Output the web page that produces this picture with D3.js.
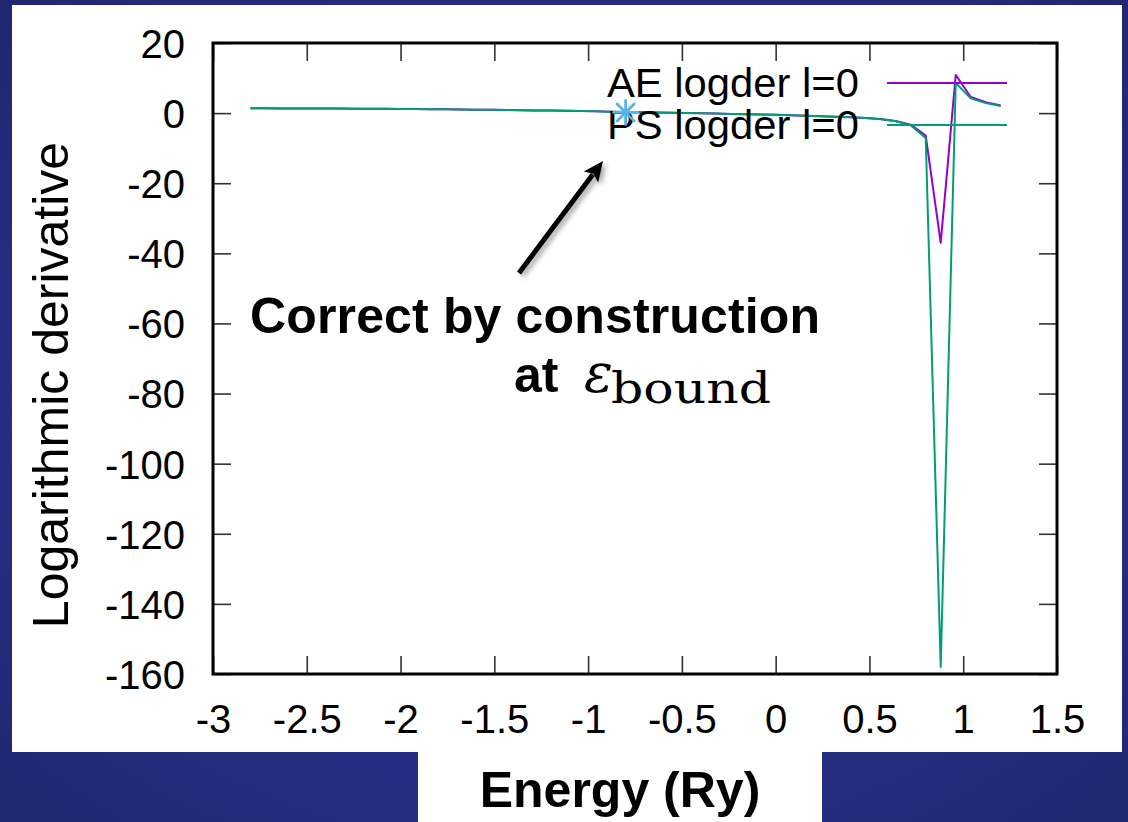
<!DOCTYPE html>
<html>
<head>
<meta charset="utf-8">
<script src="https://cdn.jsdelivr.net/npm/d3@7"></script>
<style>
  html, body { margin: 0; padding: 0; background: #2b3088; }
  svg { display: block; }
  text { font-family: "Liberation Sans", Arial, Helvetica, sans-serif; }
</style>
</head>
<body>
<svg id="chart" width="1128" height="822"></svg>
<script>
// Energy grid (Ry) on which the logarithmic derivatives were evaluated
const energies = [
  -2.80, -2.72, -2.64, -2.56, -2.48, -2.40, -2.32, -2.24, -2.16, -2.08,
  -2.00, -1.92, -1.84, -1.76, -1.68, -1.60, -1.52, -1.44, -1.36, -1.28,
  -1.20, -1.12, -1.04, -0.96, -0.88, -0.80, -0.72, -0.64, -0.56, -0.48,
  -0.40, -0.32, -0.24, -0.16, -0.08,  0.00,  0.08,  0.16,  0.24,  0.32,
   0.40,  0.48,  0.56,  0.64,  0.72,  0.80,  0.88,  0.96,  1.04,  1.12,
   1.20
];

// All-electron logarithmic derivative, l = 0
const aeLogder = [
   1.38,  1.37,  1.35,  1.34,  1.32,  1.30,  1.28,  1.26,  1.24,  1.21,
   1.18,  1.15,  1.11,  1.07,  1.03,  0.99,  0.94,  0.89,  0.84,  0.78,
   0.72,  0.65,  0.58,  0.50,  0.42,  0.34,  0.26,  0.18,  0.10,  0.02,
  -0.06, -0.14, -0.22, -0.31, -0.40, -0.50, -0.61, -0.73, -0.86, -1.01,
  -1.18, -1.39, -1.70, -2.25, -3.30, -6.40, -37.0, 10.9,  4.6,   3.1,
   2.2
];

// Pseudo logarithmic derivative, l = 0
const psLogder = [
   1.38,  1.37,  1.35,  1.34,  1.32,  1.30,  1.28,  1.26,  1.24,  1.21,
   1.18,  1.15,  1.11,  1.07,  1.03,  0.99,  0.94,  0.89,  0.84,  0.78,
   0.72,  0.65,  0.58,  0.50,  0.42,  0.34,  0.26,  0.18,  0.10,  0.02,
  -0.06, -0.14, -0.22, -0.31, -0.40, -0.50, -0.61, -0.73, -0.86, -1.01,
  -1.18, -1.39, -1.72, -2.30, -3.45, -7.10, -158.0, 8.6,  4.2,   2.9,
   2.0
];

// Reference (bound-state) energy where both curves agree
const boundPoint = [{ e: -0.80, v: 0.20 }];

const xTicks = [-3, -2.5, -2, -1.5, -1, -0.5, 0, 0.5, 1, 1.5];
const yTicks = [20, 0, -20, -40, -60, -80, -100, -120, -140, -160];

const seriesNames = ["AE logder l=0", "PS logder l=0"];
const seriesColors = ["#9400d3", "#009e73"];

const svg = d3.select("#chart");
const W = 1128, H = 822;

// ---- slide background with soft vignette ----
const defs = svg.append("defs");
const rg = defs.append("radialGradient").attr("id", "bg")
  .attr("cx", "50%").attr("cy", "50%").attr("r", "75%");
rg.append("stop").attr("offset", "0%").attr("stop-color", "#3339a0");
rg.append("stop").attr("offset", "100%").attr("stop-color", "#20256f");
svg.append("rect").attr("width", W).attr("height", H).attr("fill", "url(#bg)");

const shadow = defs.append("filter").attr("id", "shadow")
  .attr("x", "-30%").attr("y", "-30%").attr("width", "160%").attr("height", "160%");
shadow.append("feDropShadow").attr("dx", 3).attr("dy", 3)
  .attr("stdDeviation", 2.5).attr("flood-color", "#000").attr("flood-opacity", 0.35);

// white panels
svg.append("rect").attr("x", 12).attr("y", 5).attr("width", 1110).attr("height", 747).attr("fill", "#fff");
svg.append("rect").attr("x", 418).attr("y", 750).attr("width", 404).attr("height", 72).attr("fill", "#fff");

// ---- plot area ----
const plot = { left: 213, right: 1057, top: 43, bottom: 674 };
const x = d3.scaleLinear().domain([-3, 1.5]).range([plot.left, plot.right]);
const y = d3.scaleLinear().domain([-160, 20]).range([plot.bottom, plot.top]);

const tickLen = 18;
const tickFont = 40;

// bottom axis (ticks inward, labels below)
const xAxisB = d3.axisBottom(x).tickValues(xTicks).tickSize(-tickLen).tickPadding(31)
  .tickFormat(d => String(d));
const gxb = svg.append("g").attr("transform", `translate(0,${plot.bottom})`).call(xAxisB);
// top mirror ticks
const gxt = svg.append("g").attr("transform", `translate(0,${plot.top})`)
  .call(d3.axisTop(x).tickValues(xTicks).tickSize(-tickLen).tickFormat(""));
// left axis
const yAxisL = d3.axisLeft(y).tickValues(yTicks).tickSize(-tickLen).tickPadding(28)
  .tickFormat(d => String(d));
const gyl = svg.append("g").attr("transform", `translate(${plot.left},0)`).call(yAxisL);
// right mirror ticks
const gyr = svg.append("g").attr("transform", `translate(${plot.right},0)`)
  .call(d3.axisRight(y).tickValues(yTicks).tickSize(-tickLen).tickFormat(""));

[gxb, gxt, gyl, gyr].forEach(g => {
  g.select(".domain").remove();
  g.selectAll(".tick line").attr("stroke", "#333").attr("stroke-width", 1.6);
  g.selectAll(".tick text").attr("fill", "#000")
    .style("font-family", "'Liberation Sans', Arial, sans-serif")
    .style("font-size", tickFont + "px");
});
gxb.selectAll(".tick text").attr("dy", "0.71em");
gyl.selectAll(".tick text").attr("dy", "0.36em");

// ---- curves ----
const line = d3.line().x(d => x(d[0])).y(d => y(d[1]));
const clip = defs.append("clipPath").attr("id", "clip");
clip.append("rect").attr("x", plot.left).attr("y", plot.top)
  .attr("width", plot.right - plot.left).attr("height", plot.bottom - plot.top);

const curves = svg.append("g").attr("clip-path", "url(#clip)");
[aeLogder, psLogder].forEach((vals, i) => {
  curves.append("path")
    .datum(energies.map((e, k) => [e, vals[k]]))
    .attr("d", line)
    .attr("fill", "none")
    .attr("stroke", seriesColors[i])
    .attr("stroke-width", 2)
    .attr("stroke-linejoin", "round");
});

// ---- legend ----
const legendRows = [97, 139];
const legendSample = [887, 1007];
seriesNames.forEach((name, i) => {
  svg.append("text")
    .attr("x", 859).attr("y", legendRows[i])
    .attr("text-anchor", "end")
    .style("font-size", "40px")
    .attr("textLength", 252).attr("lengthAdjust", "spacingAndGlyphs")
    .text(name);
  svg.append("line")
    .attr("x1", legendSample[0]).attr("x2", legendSample[1])
    .attr("y1", legendRows[i] - 14).attr("y2", legendRows[i] - 14)
    .attr("stroke", seriesColors[i]).attr("stroke-width", 2);
});

// bound-state marker (asterisk), drawn above the legend text
const star = svg.append("g").selectAll("g").data(boundPoint).join("g")
  .attr("transform", d => `translate(${x(d.e)},${y(d.v)})`);
[0, 45, 90, 135].forEach(a => {
  const r = 12, t = a * Math.PI / 180;
  star.append("line")
    .attr("x1", -r * Math.cos(t)).attr("y1", -r * Math.sin(t))
    .attr("x2", r * Math.cos(t)).attr("y2", r * Math.sin(t))
    .attr("stroke", "#56b4e9").attr("stroke-width", 2.8)
    .attr("stroke-linecap", "round");
});

// frame
svg.append("rect")
  .attr("x", plot.left).attr("y", plot.top)
  .attr("width", plot.right - plot.left).attr("height", plot.bottom - plot.top)
  .attr("fill", "none").attr("stroke", "#000").attr("stroke-width", 3);

// ---- axis titles ----
svg.append("text")
  .attr("transform", `translate(68,385) rotate(-90)`)
  .attr("text-anchor", "middle")
  .style("font-size", "50px")
  .text("Logarithmic derivative");

svg.append("text")
  .attr("x", 620).attr("y", 807)
  .attr("text-anchor", "middle")
  .style("font-size", "50px").style("font-weight", "bold")
  .text("Energy (Ry)");

// ---- annotation ----
svg.append("text")
  .attr("x", 250).attr("y", 333)
  .style("font-size", "50px").style("font-weight", "bold")
  .attr("textLength", 570).attr("lengthAdjust", "spacing")
  .text("Correct by construction");

svg.append("text")
  .attr("x", 514).attr("y", 392)
  .style("font-size", "50px").style("font-weight", "bold")
  .text("at");

svg.append("text")
  .attr("x", 584).attr("y", 392)
  .style("font-family", "'DejaVu Serif', 'Liberation Serif', serif")
  .style("font-style", "italic")
  .style("font-size", "54px")
  .text("ε");

svg.append("text")
  .attr("x", 611).attr("y", 403)
  .style("font-family", "'DejaVu Serif', 'Liberation Serif', serif")
  .style("font-size", "42px")
  .attr("textLength", 160).attr("lengthAdjust", "spacingAndGlyphs")
  .text("bound");

// arrow pointing at the bound-state marker
const arrow = svg.append("g").attr("filter", "url(#shadow)");
const ax0 = 519, ay0 = 273, ax1 = 603, ay1 = 161;
const ang = Math.atan2(ay1 - ay0, ax1 - ax0);
const headL = 20, headW = 9;
const bx = ax1 - headL * Math.cos(ang), by = ay1 - headL * Math.sin(ang);
arrow.append("line")
  .attr("x1", ax0).attr("y1", ay0).attr("x2", bx + 3 * Math.cos(ang)).attr("y2", by + 3 * Math.sin(ang))
  .attr("stroke", "#000").attr("stroke-width", 5);
arrow.append("path")
  .attr("d", d3.line()([
    [ax1, ay1],
    [bx + headW * Math.sin(ang), by - headW * Math.cos(ang)],
    [bx + 4 * Math.cos(ang), by + 4 * Math.sin(ang)],
    [bx - headW * Math.sin(ang), by + headW * Math.cos(ang)]
  ]) + "Z")
  .attr("fill", "#000");
</script>
</body>
</html>
